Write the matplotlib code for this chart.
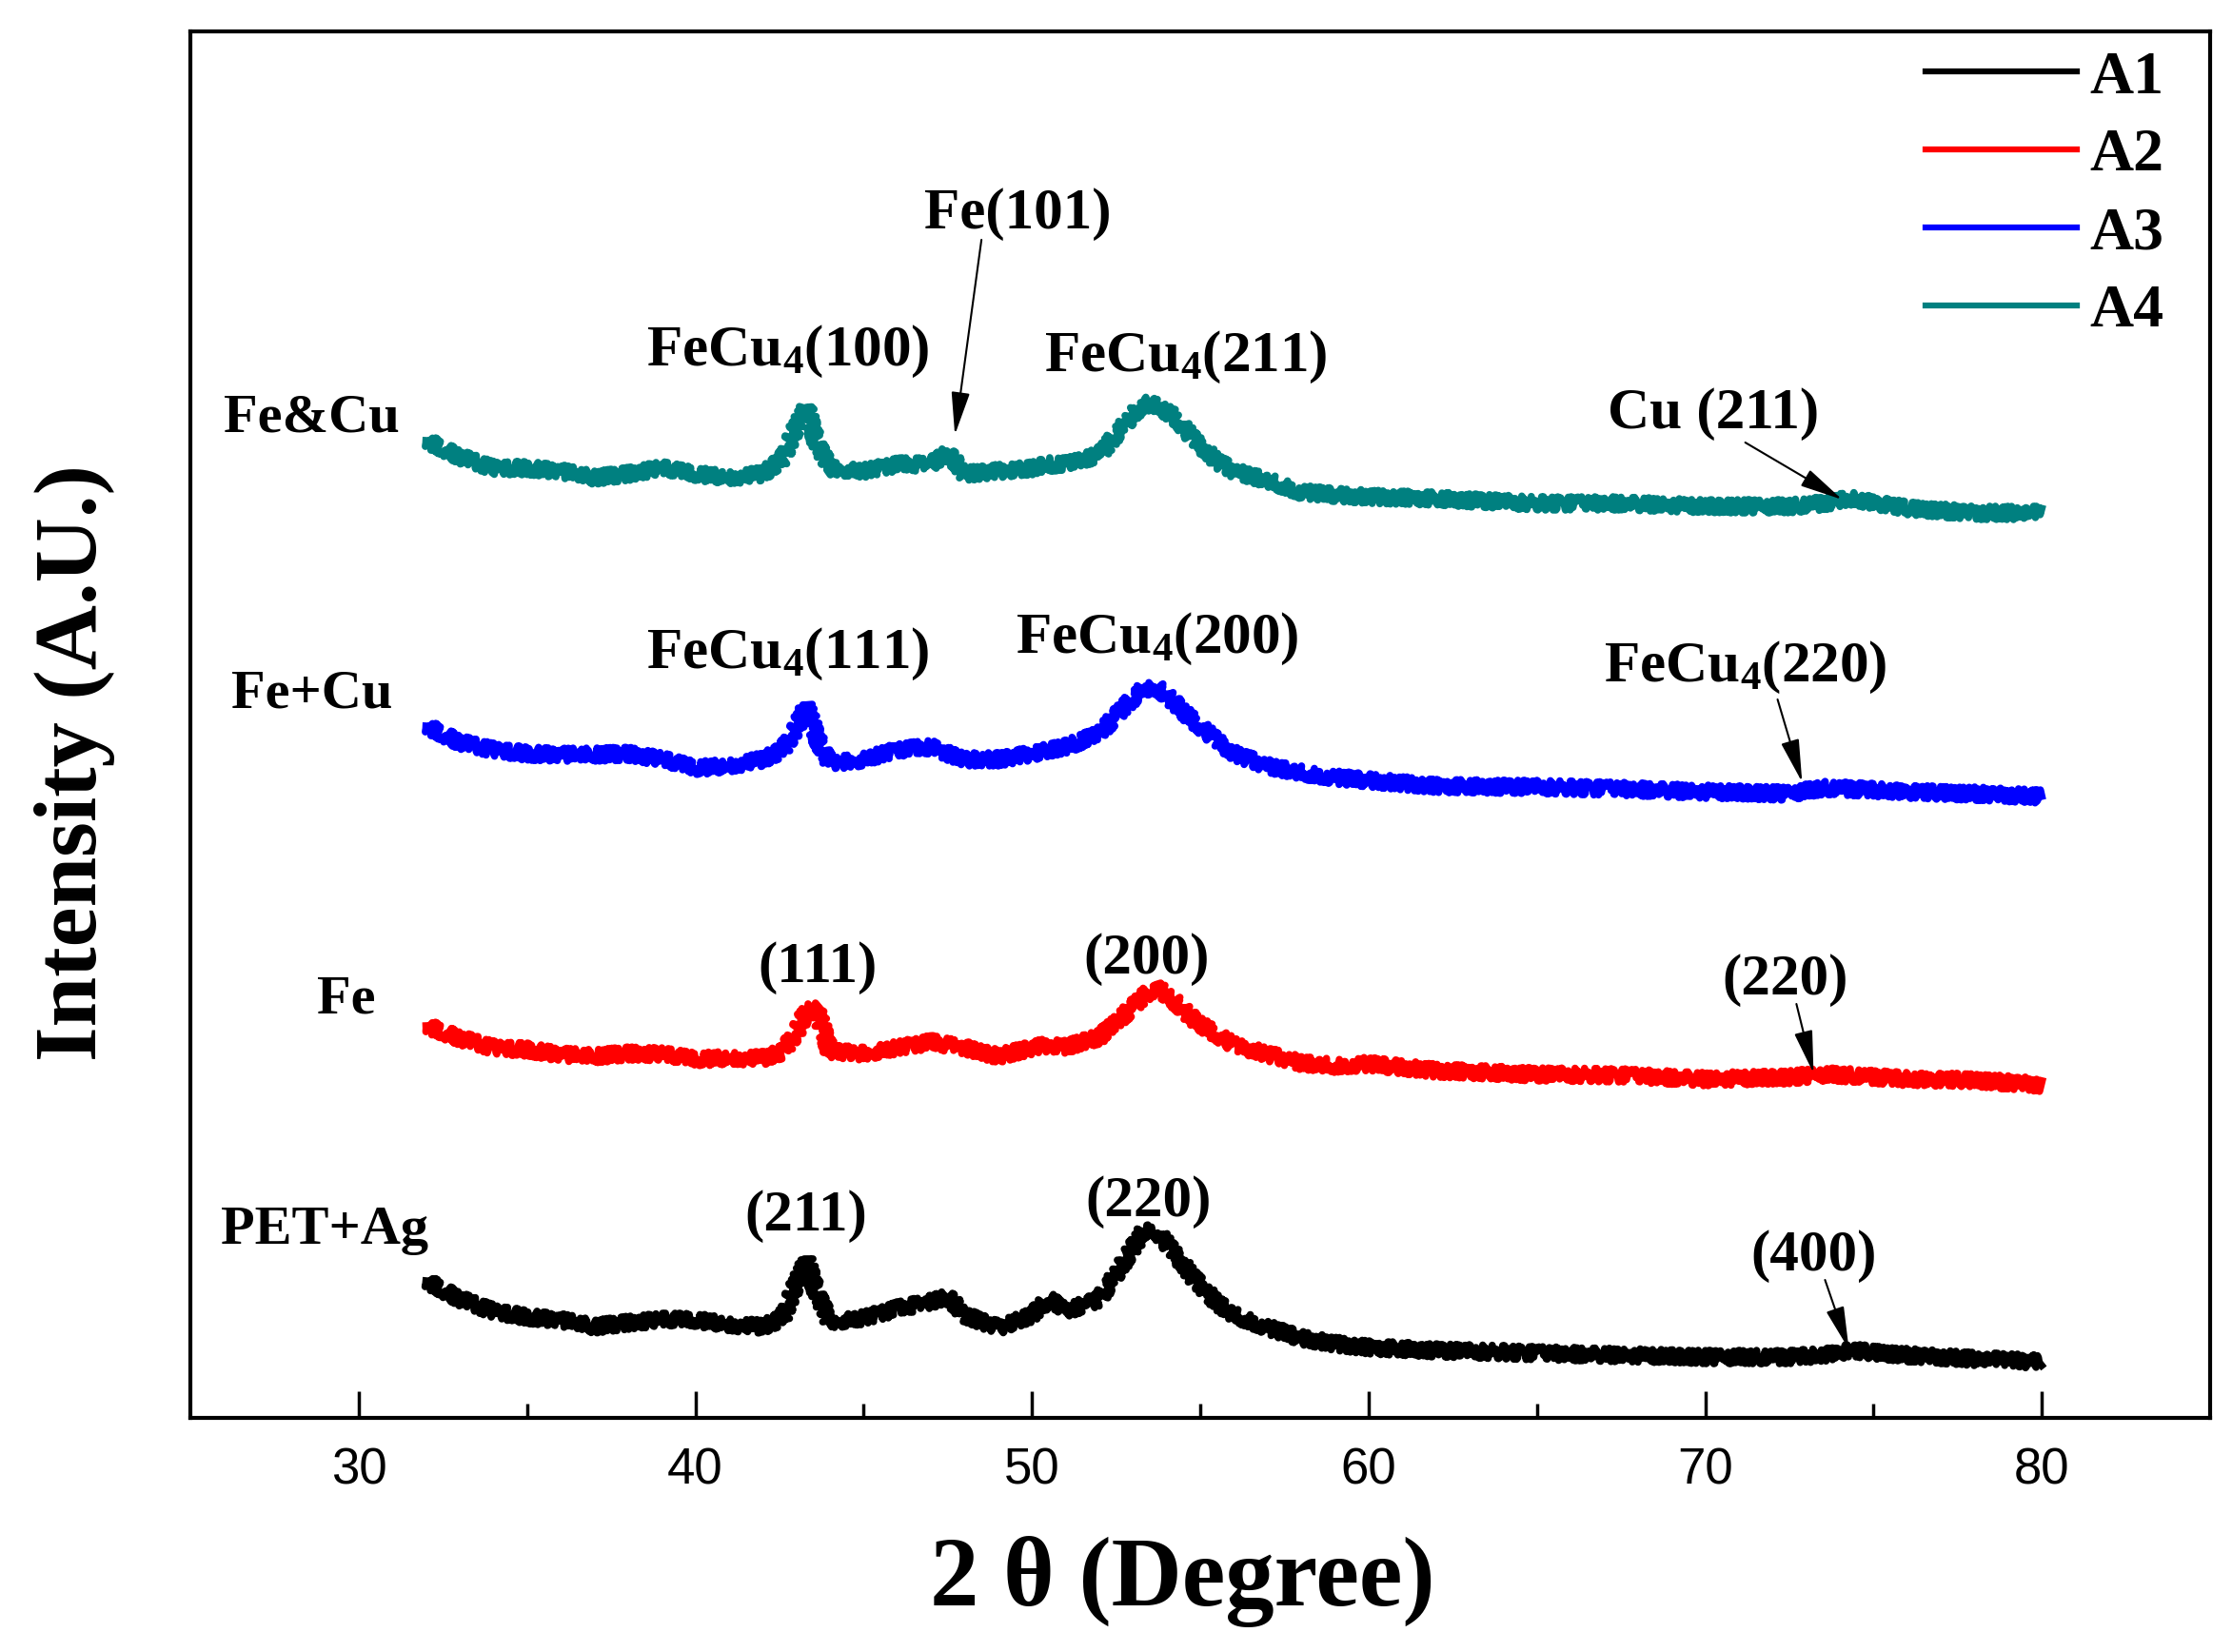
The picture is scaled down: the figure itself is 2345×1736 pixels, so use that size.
import matplotlib

matplotlib.use("Agg")

import matplotlib.pyplot as plt  # noqa: E402
from matplotlib.lines import Line2D  # noqa: E402
import numpy as np  # noqa: E402

# --- data (intensity in arbitrary units) -----------------------------------
two_theta = [32, 33, 34, 35, 36, 37, 38, 39, 40, 41, 42, 42.6, 43.0, 43.3,
             43.6, 44, 45, 46, 47, 47.5, 48, 49, 50, 50.5, 51, 52, 52.7,
             53.3, 53.7, 54.2, 54.8, 55.5, 56, 57, 58, 59, 60, 62, 65, 67.5,
             70, 72.5, 73.5, 74.3, 76, 78, 80]

a1 = [144, 125, 112, 106, 103, 96, 100, 103, 103, 98, 96, 105, 142, 166,
      132, 101, 105, 115, 122, 128, 108, 95, 108, 125, 112, 125, 162,
      196, 196, 175, 147, 121, 108, 95, 84, 78, 74, 71, 68, 66,
      64, 64, 66, 71, 66, 62, 59]
a2 = [112, 99, 89, 87, 82, 80, 83, 82, 77, 78, 78, 85, 105, 128,
      130, 85, 83, 89, 95, 92, 89, 80, 89, 92, 90, 100, 122,
      143, 153, 139, 119, 102, 92, 82, 73, 70, 72, 65, 61, 60,
      56, 58, 61, 60, 56, 55, 50]
a3 = [127, 110, 102, 98, 97, 97, 98, 92, 83, 85, 92, 102, 125, 149,
      115, 88, 92, 102, 105, 98, 92, 92, 98, 102, 105, 119, 146,
      166, 168, 153, 132, 112, 98, 85, 78, 73, 70, 64, 63, 61,
      58, 56, 62, 61, 58, 56, 53]
a4 = [127, 110, 98, 98, 95, 88, 92, 98, 92, 88, 92, 108, 142, 163,
      125, 98, 95, 102, 102, 115, 92, 95, 98, 102, 102, 112, 142,
      166, 164, 153, 129, 105, 95, 85, 73, 70, 68, 66, 61, 61,
      58, 58, 61, 66, 56, 51, 51]

series = ["A1", "A2", "A3", "A4"]
offsets = [0, 300, 600, 900]
colors = ["#000000", "#ff0000", "#0000ff", "#008080"]
samples = ["PET+Ag", "Fe", "Fe+Cu", "Fe&Cu"]

# label positions (2theta, intensity)
sample_pos = [(28.98, 197), (29.63, 440), (28.62, 760), (28.59, 1050)]

peaks = [
    ("FeCu$_4$(100)", 42.74, 1106),
    ("Fe(101)", 49.58, 1250),
    ("FeCu$_4$(211)", 54.58, 1100),
    ("Cu (211)", 70.25, 1040),
    ("FeCu$_4$(111)", 42.74, 788),
    ("FeCu$_4$(200)", 53.73, 804),
    ("FeCu$_4$(220)", 71.19, 774),
    ("(111)", 43.64, 458),
    ("(200)", 53.39, 467),
    ("(220)", 72.37, 445),
    ("(211)", 43.28, 197),
    ("(220)", 53.45, 212),
    ("(400)", 73.22, 155),
]

arrows = [
    ((48.50, 1238), (47.71, 1033)),
    ((71.19, 1025), (74.07, 965)),
    ((72.15, 755), (72.88, 668)),
    ((72.71, 435), (73.22, 362)),
    ((73.56, 145), (74.27, 72)),
]

plt.rcParams["font.family"] = ["Liberation Serif", "DejaVu Serif"]
plt.rcParams["font.weight"] = "bold"
plt.rcParams["mathtext.fontset"] = "custom"
plt.rcParams["mathtext.rm"] = "Liberation Serif:bold"
plt.rcParams["mathtext.it"] = "Liberation Serif:bold"
plt.rcParams["mathtext.bf"] = "Liberation Serif:bold"

fig = plt.figure(figsize=(23.45, 17.36), dpi=100)
ax = fig.add_axes([0.0853, 0.1417, 0.9049, 0.8393])

x = np.array(two_theta)
for vals, off, col in zip([a1, a2, a3, a4], offsets, colors):
    (ln,) = ax.plot(x, np.array(vals) + off, color=col, lw=5.5,
                    solid_joinstyle="round")
    # noisy look of the raw scan
    ln.set_sketch_params(scale=7, length=1.5, randomness=12)

for name, (sx, sy) in zip(samples, sample_pos):
    ax.text(sx, sy, name, fontsize=42, ha="center", va="center")

for txt, px, py in peaks:
    ax.text(px, py, txt, fontsize=44, ha="center", va="baseline")

for tail, tip in arrows:
    ax.annotate("", xy=tip, xytext=tail,
                arrowprops=dict(arrowstyle="-|>,head_length=1.4,head_width=0.3",
                                color="black", lw=1.5, mutation_scale=20,
                                shrinkA=0, shrinkB=0))

ax.set_xlim(25, 85)
ax.set_ylim(0, 1457)
ax.set_xticks([30, 40, 50, 60, 70, 80])
ax.set_xticks([35, 45, 55, 65, 75], minor=True)
ax.set_yticks([])
ax.tick_params(axis="x", which="major", direction="in", length=20, width=2.5,
               pad=22, labelsize=38)
ax.tick_params(axis="x", which="minor", direction="in", length=11, width=2.5)
for t in ax.get_xticklabels():
    t.set_fontfamily("Liberation Sans")
    t.set_fontweight("normal")
for sp in ax.spines.values():
    sp.set_linewidth(3)

handles = [Line2D([], [], color=c, lw=4.5) for c in colors]
ax.legend(handles, series, loc="upper right", bbox_to_anchor=(0.983, 0.995),
          frameon=False, fontsize=46, handlelength=2.5, handletextpad=0.2,
          labelspacing=0.36, borderpad=0.2, borderaxespad=0)

fig.text(0.0333, 0.5385, "Intensity (A.U.)", rotation=90, fontsize=68,
         ha="center", va="center")
fig.text(0.5296, 0.0426, "2 θ (Degree)", fontsize=74, ha="center",
         va="center")

fig.savefig("out.png", dpi=100)
plt.close(fig)
